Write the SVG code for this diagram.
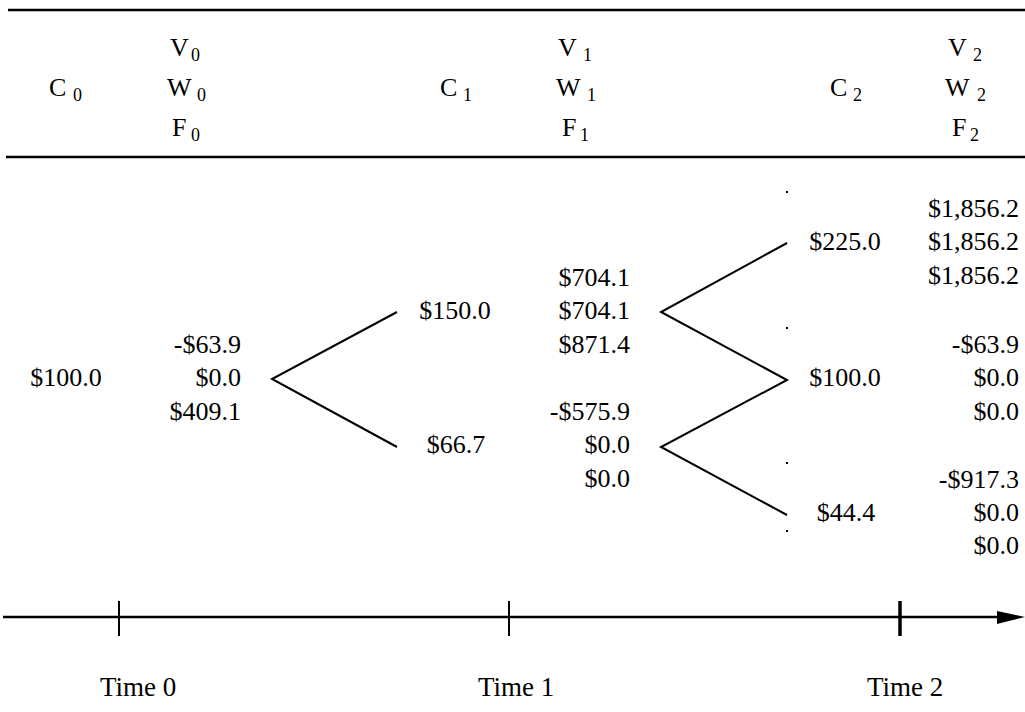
<svg xmlns="http://www.w3.org/2000/svg" width="1025" height="712" viewBox="0 0 1025 712">
<style>
text{font-family:"Liberation Serif","Times New Roman",serif;font-size:26px;fill:#000}
.sub{font-size:18px}
.r{text-anchor:end}
.m{text-anchor:middle}
.ln{stroke:#000;stroke-width:2;fill:none;stroke-linecap:butt}
.rule{stroke:#000;stroke-width:2.5}
.t{font-size:27px}
</style>
<rect width="1025" height="712" fill="#fff"/>
<g id="header">
<line class="rule" x1="8" y1="10" x2="1025" y2="10"/>
<line class="rule" x1="6" y1="157" x2="1025" y2="157"/>
<text x="49" y="96">C</text><text class="sub" x="73" y="101">0</text>
<text x="170" y="56">V</text><text class="sub" x="191" y="61">0</text>
<text x="167" y="96">W</text><text class="sub" x="197" y="101">0</text>
<text x="172" y="136">F</text><text class="sub" x="191" y="141">0</text>
<text x="440" y="96">C</text><text class="sub" x="463" y="101">1</text>
<text x="558" y="56">V</text><text class="sub" x="583" y="61">1</text>
<text x="556" y="96">W</text><text class="sub" x="587" y="101">1</text>
<text x="562" y="136">F</text><text class="sub" x="580" y="141">1</text>
<text x="830" y="96">C</text><text class="sub" x="853" y="101">2</text>
<text x="948" y="56">V</text><text class="sub" x="973" y="61">2</text>
<text x="945" y="96">W</text><text class="sub" x="977" y="101">2</text>
<text x="952" y="136">F</text><text class="sub" x="970" y="141">2</text>
</g>
<g id="node-t0">
<text class="m" x="66" y="386">$100.0</text>
<text class="r" x="241" y="353">-$63.9</text>
<text class="r" x="241" y="386">$0.0</text>
<text class="r" x="241" y="420">$409.1</text>
</g>
<g id="node-t1-up">
<text class="m" x="455" y="319">$150.0</text>
<text class="r" x="630" y="286">$704.1</text>
<text class="r" x="630" y="319">$704.1</text>
<text class="r" x="630" y="353">$871.4</text>
</g>
<g id="node-t1-down">
<text class="m" x="456" y="453">$66.7</text>
<text class="r" x="630" y="420">-$575.9</text>
<text class="r" x="630" y="453">$0.0</text>
<text class="r" x="630" y="487">$0.0</text>
</g>
<g id="node-t2-up">
<text class="m" x="845" y="250">$225.0</text>
<text class="r" x="1019" y="217">$1,856.2</text>
<text class="r" x="1019" y="250">$1,856.2</text>
<text class="r" x="1019" y="284">$1,856.2</text>
</g>
<g id="node-t2-mid">
<text class="m" x="845" y="386">$100.0</text>
<text class="r" x="1019" y="353">-$63.9</text>
<text class="r" x="1019" y="386">$0.0</text>
<text class="r" x="1019" y="420">$0.0</text>
</g>
<g id="node-t2-down">
<text class="m" x="846" y="521">$44.4</text>
<text class="r" x="1019" y="488">-$917.3</text>
<text class="r" x="1019" y="521">$0.0</text>
<text class="r" x="1019" y="554">$0.0</text>
</g>
<g id="connectors">
<polyline class="ln" points="397,312 272,379 397,447"/>
<polyline class="ln" points="787,243 661,312 787,380 661,447 787,515"/>
<rect x="786" y="191" width="2" height="2"/>
<rect x="786" y="327" width="2" height="2"/>
<rect x="786" y="462" width="2" height="2"/>
<rect x="786" y="530" width="2" height="2"/>
</g>
<g id="timeline">
<line class="rule" x1="3" y1="617" x2="1000" y2="617"/>
<polygon points="997,611 1025,617 997,624" fill="#000"/>
<line x1="119" y1="601" x2="119" y2="636" stroke="#000" stroke-width="2"/>
<line x1="509" y1="601" x2="509" y2="636" stroke="#000" stroke-width="2"/>
<line x1="900" y1="601" x2="900" y2="636" stroke="#000" stroke-width="3.5"/>
<text class="t" x="100" y="696">Time 0</text>
<text class="t" x="478" y="696">Time 1</text>
<text class="t" x="867" y="696">Time 2</text>
</g>
</svg>
